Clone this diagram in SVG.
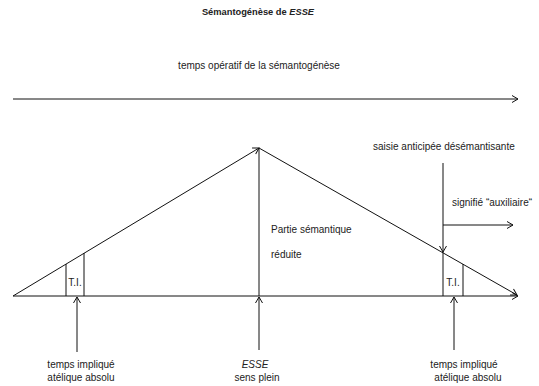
<svg xmlns="http://www.w3.org/2000/svg" width="539" height="386" viewBox="0 0 539 386">
<style>
text{font-family:"Liberation Sans",Arial,sans-serif;font-size:10px;fill:#222}
.t{font-weight:bold;font-size:9.3px}
.c{text-anchor:middle}
.ln{stroke:#111;stroke-width:1;fill:none}
</style>
<defs>
<marker id="ah" markerUnits="userSpaceOnUse" markerWidth="10" markerHeight="10" viewBox="-7 -5 8 10" refX="0" refY="0" orient="auto">
<path d="M-6,-3.5 L0,0 L-6,3.5" fill="none" stroke="#111" stroke-width="1"/>
</marker>
</defs>
<rect width="539" height="386" fill="#fff"/>
<g id="title"><text class="t c" x="258" y="15">Sémantogénèse de <tspan font-style="italic">ESSE</tspan></text></g>
<g id="time-label"><text class="c" x="259" y="69">temps opératif de la sémantogénèse</text></g>
<g id="connectors">
<line class="ln" x1="13" y1="99" x2="518" y2="99" marker-end="url(#ah)"/>
<line class="ln" x1="13" y1="296" x2="518" y2="296" marker-end="url(#ah)"/>
<line class="ln" x1="13" y1="296" x2="259" y2="148" marker-end="url(#ah)"/>
<line class="ln" x1="259" y1="148" x2="517" y2="295" marker-end="url(#ah)"/>
<line class="ln" x1="259" y1="296" x2="259" y2="148"/>
<line class="ln" x1="259" y1="350" x2="259" y2="297" marker-end="url(#ah)"/>
<line class="ln" x1="66" y1="296" x2="66" y2="264"/>
<line class="ln" x1="84" y1="296" x2="84" y2="253"/>
<line class="ln" x1="77" y1="352" x2="77" y2="297" marker-end="url(#ah)"/>
<line class="ln" x1="443" y1="163" x2="443" y2="252" marker-end="url(#ah)"/>
<line class="ln" x1="443" y1="252" x2="443" y2="296"/>
<line class="ln" x1="463" y1="296" x2="463" y2="264"/>
<line class="ln" x1="443" y1="225" x2="513" y2="225" marker-end="url(#ah)"/>
<line class="ln" x1="454" y1="350" x2="454" y2="297" marker-end="url(#ah)"/>
</g>
<g id="ti-left"><text class="c" x="75" y="286">T.I.</text></g>
<g id="ti-right"><text class="c" x="453" y="286">T.I.</text></g>
<g id="saisie"><text x="373" y="150">saisie anticipée désémantisante</text></g>
<g id="signifie"><text x="452" y="206">signifié “auxiliaire“</text></g>
<g id="partie"><text x="271" y="233">Partie sémantique</text><text x="271" y="258">réduite</text></g>
<g id="label-left"><text class="c" x="81" y="368">temps impliqué</text><text class="c" x="81" y="381">atélique absolu</text></g>
<g id="label-esse"><text class="c" x="255" y="368" font-style="italic">ESSE</text><text class="c" x="257" y="381">sens plein</text></g>
<g id="label-right"><text class="c" x="464" y="368">temps impliqué</text><text class="c" x="468" y="381">atélique absolu</text></g>
</svg>
